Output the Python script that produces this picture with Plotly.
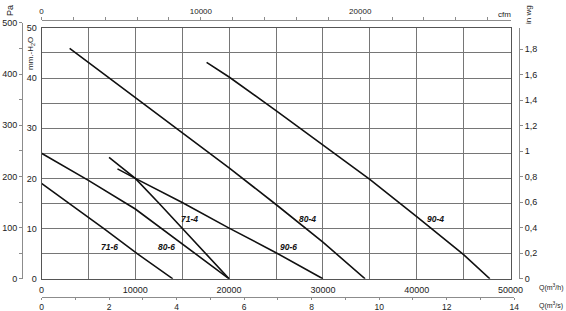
import plotly.graph_objects as go

# ---------------- data (Q in m3/h, H in mm H2O) ----------------
Q_71_6 = [0, 2960, 6650, 10200, 14000]
H_71_6 = [19.0, 15.0, 10.0, 5.0, 0.0]
Q_80_6 = [0, 5000, 10000, 15000, 20000]
H_80_6 = [25.0, 19.6, 13.9, 6.9, 0.0]
Q_71_4 = [7200, 8500, 10000, 12500, 15000, 17500, 20000]
H_71_4 = [24.2, 22.2, 20.0, 15.1, 10.1, 5.1, 0.0]
Q_90_6 = [8100, 10000, 15000, 20000, 25000, 30000]
H_90_6 = [21.9, 20.0, 15.2, 10.1, 5.2, 0.0]
Q_80_4 = [3000, 5000, 10000, 15000, 20000, 25000, 30000, 34500]
H_80_4 = [45.9, 43.1, 36.2, 29.2, 22.1, 14.8, 7.3, 0.0]
Q_90_4 = [17600, 20000, 25000, 30000, 35000, 40000, 45000, 47800]
H_90_4 = [43.1, 40.2, 33.5, 26.7, 19.8, 12.4, 4.8, 0.0]

curve_names = ["71-6", "80-6", "71-4", "90-6", "80-4", "90-4"]
label_Q = [7300, 13350, 15760, 26300, 28400, 42000]
label_H = [6.3, 6.3, 11.9, 6.3, 11.9, 11.9]

inwg_ticks = [0, 0.2, 0.4, 0.6, 0.8, 1.0, 1.2, 1.4, 1.6, 1.8]
inwg_text = ["0", "0,2", "0,4", "0,6", "0,8", "1", "1,2", "1,4", "1,6", "1,8"]

# unit conversions
PA_PER_MM = 9.80665
MM_PER_INWG = 25.4
M3H_PER_CFM = 1.699011
M3H_PER_M3S = 3600.0

# ---------------- layout geometry ----------------
W, H = 566, 311
ML, MR, MT, MB = 22, 47, 20, 14
PW, PH = W - ML - MR, H - MT - MB


def fx(px):
    return (px - ML) / PW


def fy(py):
    return (H - MB - py) / PH


FONT = "Liberation Sans, Arial, sans-serif"
TXT = "#222222"
GRID = "#767676"
AXC = "#8c8c8c"

fig = go.Figure()

series = [(Q_71_6, H_71_6), (Q_80_6, H_80_6), (Q_71_4, H_71_4),
          (Q_90_6, H_90_6), (Q_80_4, H_80_4), (Q_90_4, H_90_4)]
for name, (q, h) in zip(curve_names, series):
    fig.add_trace(go.Scatter(x=q, y=h, mode="lines", name=name,
                             line=dict(color="#111111", width=1.6),
                             hoverinfo="skip", showlegend=False))

# invisible helper traces that carry the secondary scales
fig.add_trace(go.Scatter(x=[v / M3H_PER_CFM for v in Q_80_4], y=H_80_4, xaxis="x2", yaxis="y",
                         mode="lines", line=dict(width=0), opacity=0, hoverinfo="skip", showlegend=False))
fig.add_trace(go.Scatter(x=Q_80_4, y=[v / MM_PER_INWG for v in H_80_4], xaxis="x", yaxis="y3",
                         mode="lines", line=dict(width=0), opacity=0, hoverinfo="skip", showlegend=False))
fig.add_trace(go.Scatter(x=[v / M3H_PER_M3S for v in Q_80_4], y=[v * PA_PER_MM for v in H_80_4],
                         xaxis="x3", yaxis="y2",
                         mode="lines", line=dict(width=0), opacity=0, hoverinfo="skip", showlegend=False))

tickfont = dict(family=FONT, size=9, color=TXT)

xdom = [fx(41.5), fx(510.5)]
ydom = [fy(278.8), fy(27.8)]

fig.update_layout(
    width=W, height=H,
    margin=dict(l=ML, r=MR, t=MT, b=MB, pad=0, autoexpand=False),
    paper_bgcolor="white", plot_bgcolor="rgba(0,0,0,0)",
    font=dict(family=FONT, color=TXT),
    xaxis=dict(domain=xdom, anchor="y", range=[0, 50000], tickmode="linear", tick0=0, dtick=10000,
               tickformat="d", showgrid=True, gridcolor=GRID, gridwidth=1, automargin=False,
               minor=dict(dtick=5000, tick0=0, showgrid=True, gridcolor=GRID, gridwidth=1),
               zeroline=False, showline=True, linecolor="#555555", linewidth=1, mirror=True,
               ticks="outside", ticklen=2, tickcolor="rgba(0,0,0,0)", tickfont=tickfont),
    yaxis=dict(domain=ydom, anchor="x", range=[0, 50], tickmode="linear", tick0=0, dtick=10,
               showgrid=True, gridcolor=GRID, gridwidth=1, automargin=False,
               minor=dict(dtick=5, tick0=0, showgrid=True, gridcolor=GRID, gridwidth=1),
               zeroline=False, showline=True, linecolor="#555555", linewidth=1, mirror=True,
               ticks="outside", ticklen=2, tickcolor="rgba(0,0,0,0)", tickfont=tickfont),
    xaxis2=dict(overlaying="x", anchor="free", position=1, side="top", automargin=False,
                range=[0, 50000 / M3H_PER_CFM], tickmode="linear", tick0=0, dtick=10000, tickformat="d",
                showgrid=False, zeroline=False, showline=True, linecolor=AXC, linewidth=1,
                ticks="outside", ticklen=3, tickcolor=AXC,
                minor=dict(dtick=2000, tick0=0, ticks="outside", ticklen=3, tickcolor=AXC),
                tickfont=dict(family=FONT, size=8, color=TXT)),
    xaxis3=dict(domain=[fx(41.5), fx(514.3)], anchor="free", position=0, side="bottom", automargin=False,
                range=[0, 14], tickmode="linear", tick0=0, dtick=2,
                showgrid=False, zeroline=False, showline=True, linecolor=AXC, linewidth=1,
                ticks="outside", ticklen=2, tickcolor=AXC,
                minor=dict(dtick=1, tick0=0, ticks="outside", ticklen=2, tickcolor=AXC),
                tickfont=dict(family=FONT, size=8.5, color=TXT)),
    yaxis2=dict(domain=[fy(278.8), fy(22.8)], anchor="free", position=0, side="left", automargin=False,
                range=[0, 500], tickmode="linear", tick0=0, dtick=100,
                showgrid=False, zeroline=False, showline=True, linecolor=AXC, linewidth=1,
                ticks="outside", ticklen=3, tickcolor=AXC,
                minor=dict(dtick=50, tick0=0, ticks="outside", ticklen=3, tickcolor=AXC),
                tickfont=tickfont),
    yaxis3=dict(overlaying="y", anchor="free", position=1, side="right", automargin=False,
                range=[0, 50 / MM_PER_INWG], tickmode="array", tickvals=inwg_ticks, ticktext=inwg_text,
                showgrid=False, zeroline=False, showline=True, linecolor=AXC, linewidth=1,
                ticks="outside", ticklen=3, tickcolor=AXC, tickfont=tickfont),
)

ann = []
for name, q, h in zip(curve_names, label_Q, label_H):
    ann.append(dict(x=q, y=h, xref="x", yref="y", text="<b><i>%s</i></b>" % name, showarrow=False,
                    font=dict(family=FONT, size=8.5, color="#111111"), xanchor="center", yanchor="middle"))

small = dict(family=FONT, size=8, color=TXT)
ann += [
    dict(x=fx(10), y=fy(11), xref="paper", yref="paper", text="Pa", textangle=-90, showarrow=False,
         font=dict(family=FONT, size=9, color=TXT), xanchor="center", yanchor="middle"),
    dict(x=fx(31), y=fy(54), xref="paper", yref="paper", text="mm.-H<sub>2</sub>O", textangle=-90,
         showarrow=False, font=small, xanchor="center", yanchor="middle"),
    dict(x=fx(529), y=fy(15), xref="paper", yref="paper", text="in wg", textangle=-90, showarrow=False,
         font=small, xanchor="center", yanchor="middle"),
    dict(x=fx(513), y=fy(15), xref="paper", yref="paper", text="cfm", showarrow=False,
         font=small, xanchor="right", yanchor="middle"),
    dict(x=fx(537), y=fy(287), xref="paper", yref="paper", text="Q(m<sup>3</sup>/h)", showarrow=False,
         font=dict(family=FONT, size=7, color=TXT), xanchor="left", yanchor="middle"),
    dict(x=fx(537), y=fy(305), xref="paper", yref="paper", text="Q(m<sup>3</sup>/s)", showarrow=False,
         font=dict(family=FONT, size=7, color=TXT), xanchor="left", yanchor="middle"),
]
fig.update_layout(annotations=ann)

fig.write_html("out.html")
